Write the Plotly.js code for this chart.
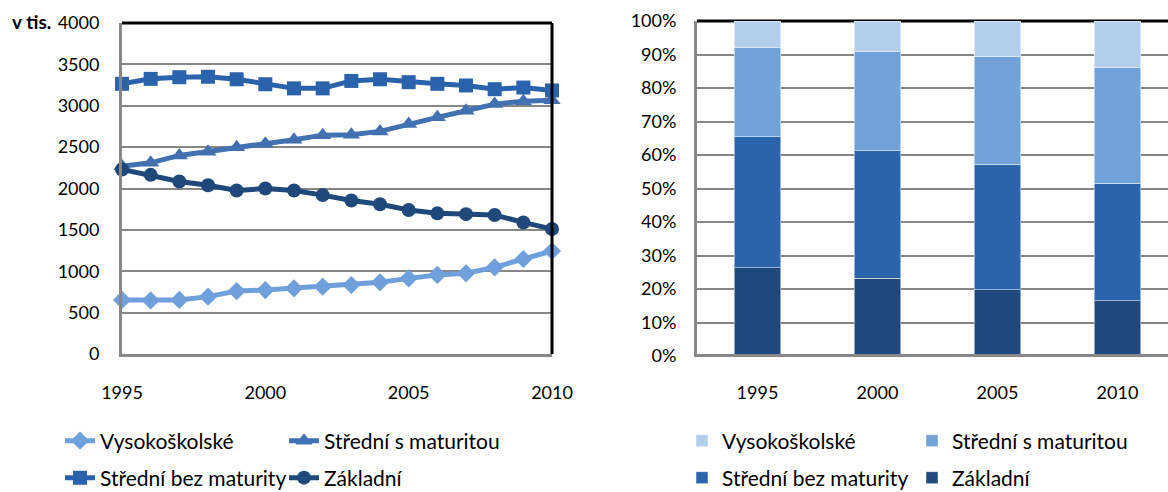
<!DOCTYPE html>
<html>
<head>
<meta charset="utf-8">
<script src="https://cdn.plot.ly/plotly-3.0.1.min.js"></script>
<style>html,body{margin:0;padding:0;background:#fff;}#chart{width:1168px;height:492px;}</style>
</head>
<body>
<div id="chart"></div>
<script>
// ---- data ----
const years = [1995,1996,1997,1998,1999,2000,2001,2002,2003,2004,2005,2006,2007,2008,2009,2010];
const vysokoskolske = [653,648,653,693,761,773,794,813,834,866,914,955,975,1047,1148,1245];
const stredniSMaturitou = [2270,2310,2400,2445,2500,2540,2590,2645,2650,2690,2780,2860,2940,3020,3055,3065];
const stredniBezMaturity = [3265,3325,3345,3350,3320,3260,3210,3210,3300,3320,3285,3265,3245,3200,3220,3185];
const zakladni = [2230,2165,2085,2040,1975,2000,1975,1920,1855,1810,1740,1700,1690,1680,1590,1510];

const barYears = ['1995','2000','2005','2010'];
const barZakladni = [26.4,23.2,19.8,16.5];
const barBezMaturity = [39.0,38.0,37.5,35.0];
const barSMaturitou = [26.8,29.6,32.2,34.7];
const barVysokoskolske = [7.8,9.2,10.5,13.8];

const seriesNames = ['Vysokoškolské','Střední s maturitou','Střední bez maturity','Základní'];
const lineTickVals = [1995,2000,2005,2010];
const lineTickText = ['1995','2000','2005','2010'];
const pctTickVals = [0,10,20,30,40,50,60,70,80,90,100];
const pctTickText = ['0%','10%','20%','30%','40%','50%','60%','70%','80%','90%','100%'];

// ---- styles ----
const W = 1168, H = 492;
const px = v => v / W;
const py = v => 1 - v / H;
const FONT = 'Lato, "Noto Sans", sans-serif';
const lineColors = ['#6FA0DB','#4171B0','#2A63AB','#1F487B'];
const barColors = ['#B3CDEC','#70A1D9','#2A64AA','#1F497D'];
const symbols = ['diamond','triangle-up','square','circle'];
const lineSeries = [vysokoskolske, stredniSMaturitou, stredniBezMaturity, zakladni];
const barSeries = [barVysokoskolske, barSMaturitou, barBezMaturity, barZakladni];
const lineLegends = ['legend','legend','legend2','legend2'];
const barLegends = ['legend3','legend3','legend4','legend4'];

const traces = [];
// line traces
[0,1,2,3].forEach(i => {
  traces.push({
    type:'scatter', mode:'lines+markers', x: years, y: lineSeries[i],
    name: seriesNames[i], xaxis:'x', yaxis:'y', legend: lineLegends[i], legendrank: i + 1,
    line:{color: lineColors[i], width:5},
    marker:{symbol: symbols[i], size: (i===1?15:14), color: lineColors[i]},
    cliponaxis:false, hoverinfo:'x+y+name'
  });
});
// bar traces: bottom to top = Základní, bez, s, VŠ
[3,2,1,0].forEach(i => {
  traces.push({
    type:'bar', x:[0,1,2,3], y: barSeries[i], name: seriesNames[i],
    xaxis:'x2', yaxis:'y2', legend: barLegends[i], legendrank: i + 1, width:0.39,
    marker:{color: barColors[i], line:{color:'rgba(255,255,255,0.5)', width:1}},
    hovertemplate: '%{y}%<extra>' + seriesNames[i] + '</extra>'
  });
});

const legendBase = {
  orientation:'h', xanchor:'left', yanchor:'middle', bgcolor:'rgba(0,0,0,0)',
  font:{family:FONT, size:21, color:'#000'}, traceorder:'normal', itemwidth:30
};
const tickFont = {family:FONT, size:18, color:'#000'};

const layout = {
  width: W, height: H,
  margin:{l:0,r:0,t:0,b:0, autoexpand:false},
  paper_bgcolor:'#fff', plot_bgcolor:'#fff',
  font:{family:FONT, size:18, color:'#000'},
  barmode:'stack',
  xaxis:{domain:[px(122), px(552)], range:[1995,2010], tickvals: lineTickVals, ticktext: lineTickText,
         showgrid:false, zeroline:false, showline:true, linecolor:'#878787', linewidth:3,
         ticks:'', ticklabelstandoff:20, tickfont:tickFont},
  yaxis:{domain:[py(354), py(23)], range:[0,4000], dtick:500, tick0:0,
         showgrid:true, gridcolor:'#878787', gridwidth:2, zeroline:false,
         showline:true, linecolor:'#878787', linewidth:3, ticks:'', ticklabelstandoff:16,
         tickfont:tickFont},
  xaxis2:{domain:[px(697), 1], range:[-0.504, 3.421], tickvals:[0,1,2,3], ticktext: barYears,
          showgrid:false, zeroline:false, showline:true, linecolor:'#878787', linewidth:3,
          ticks:'', ticklabelstandoff:20, tickfont:tickFont},
  yaxis2:{domain:[py(356), py(21)], range:[0,100], tickvals: pctTickVals, ticktext: pctTickText,
          anchor:'x2', showgrid:true, gridcolor:'#878787', gridwidth:2, zeroline:false,
          showline:true, linecolor:'#878787', linewidth:3, ticks:'', ticklabelstandoff:14,
          tickfont:tickFont},
  shapes:[
    {type:'line', xref:'x domain', yref:'y domain', x0:0, x1:1, y0:1, y1:1, line:{color:'#000', width:3}, layer:'above'},
    {type:'line', xref:'x domain', yref:'y domain', x0:1, x1:1, y0:0, y1:1, line:{color:'#000', width:3}, layer:'above'},
    {type:'line', xref:'x2 domain', yref:'y2 domain', x0:0, x1:1, y0:1, y1:1, line:{color:'#000', width:3}, layer:'below'}
  ],
  annotations:[
    {text:'<b>v tis.</b>', xref:'paper', yref:'paper', x:px(10), y:py(22), xanchor:'left', yanchor:'middle',
     showarrow:false, font:{family:FONT, size:19, color:'#000'}}
  ],
  legend: Object.assign({}, legendBase, {x:px(60), y:py(441), entrywidth:179}),
  legend2: Object.assign({}, legendBase, {x:px(60), y:py(478), entrywidth:179}),
  legend3: Object.assign({}, legendBase, {x:px(682), y:py(441), entrywidth:185}),
  legend4: Object.assign({}, legendBase, {x:px(682), y:py(478), entrywidth:185}),
  showlegend:true
};

Plotly.newPlot('chart', traces, layout, {displayModeBar:false, staticPlot:true});
</script>
</body>
</html>
